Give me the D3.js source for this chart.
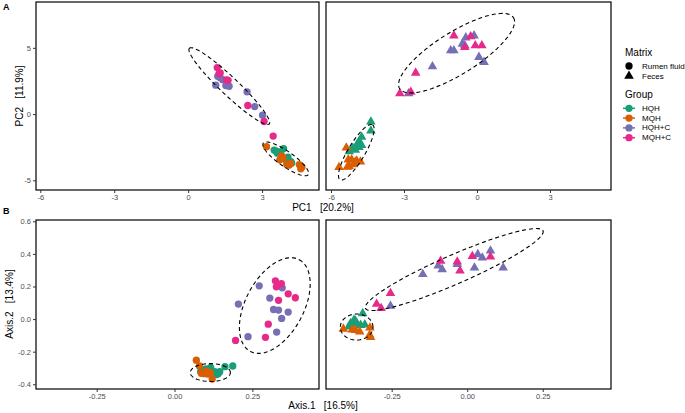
<!DOCTYPE html>
<html><head><meta charset="utf-8">
<script src="https://cdn.jsdelivr.net/npm/d3@7"></script>
<style>body{margin:0;background:#fff}svg{display:block}text{font-family:"Liberation Sans",Arial,sans-serif}</style>
</head><body><svg id="c" width="685" height="413"></svg>
<script>
// ---------- data ----------
const groups = ["HQH","MQH","HQH+C","MQH+C"];
const groupColors = ["#1B9E77","#D95F02","#7570B3","#E7298A"];
const matrices = ["Rumen fluid","Feces"];

// PCA (panel A) – rumen fluid
const pcaRumenHQH  = [[3.49,-2.72],[3.57,-2.8],[3.68,-2.85],[3.87,-2.6],[3.76,-3.0],[3.93,-3.4],[4.17,-3.6],[4.05,-3.25],[3.62,-2.95],[4.2,-3.7]];
const pcaRumenMQH  = [[3.18,-2.46],[3.79,-3.15],[3.72,-3.45],[4.0,-3.8],[4.15,-3.73],[4.51,-3.81],[4.57,-4.13],[3.85,-3.3],[4.62,-4.0],[4.1,-3.85]];
const pcaRumenHQHC = [[1.12,2.18],[1.2,2.85],[1.4,2.6],[1.53,2.15],[1.66,2.1],[2.39,1.68],[2.7,0.57],[3.02,-0.08],[1.3,2.75]];
const pcaRumenMQHC = [[1.18,3.51],[1.25,3.04],[1.3,3.1],[1.56,2.58],[1.62,2.55],[2.42,0.65],[3.08,-0.56],[3.45,-1.66]];
// PCA – feces
const pcaFecesHQH  = [[-4.36,-0.58],[-4.36,-1.26],[-4.74,-1.73],[-4.84,-2.06],[-4.94,-2.31],[-4.74,-2.35],[-5.1,-2.56],[-5.25,-2.82],[-4.85,-2.5],[-5.0,-2.7]];
const pcaFecesMQH  = [[-5.37,-2.54],[-5.67,-4.02],[-5.29,-3.44],[-5.15,-3.44],[-5.25,-3.95],[-5.08,-3.8],[-4.94,-3.53],[-4.79,-3.6],[-5.33,-4.0],[-5.0,-3.6]];
const pcaFecesHQHC = [[-0.12,5.92],[-0.46,5.77],[-0.6,5.3],[-0.5,5.17],[-1.08,4.8],[-0.95,4.8],[-1.83,3.59],[0.08,4.3],[0.29,3.92],[-2.81,1.55]];
const pcaFecesMQHC = [[-0.95,5.92],[-0.26,5.85],[-0.07,5.17],[0.2,5.17],[-0.5,5.05],[-2.52,3.11],[-3.17,1.55],[-2.72,1.66]];

// PCoA (panel B) – rumen fluid
const pcoaRumenHQH  = [[0.084,-0.323],[0.116,-0.297],[0.129,-0.323],[0.145,-0.323],[0.162,-0.292],[0.187,-0.288],[0.14,-0.335],[0.1,-0.305],[0.135,-0.34]];
const pcoaRumenMQH  = [[0.07,-0.252],[0.08,-0.288],[0.086,-0.333],[0.102,-0.319],[0.107,-0.337],[0.121,-0.368],[0.095,-0.335],[0.115,-0.33]];
const pcoaRumenHQHC = [[0.272,0.204],[0.346,0.192],[0.306,0.129],[0.205,0.092],[0.318,0.059],[0.334,0.055],[0.365,0.043],[0.344,0.004],[0.236,-0.108],[0.328,-0.08]];
const pcoaRumenMQHC = [[0.324,0.235],[0.343,0.217],[0.327,0.198],[0.365,0.155],[0.388,0.131],[0.334,0.115],[0.301,-0.031],[0.292,-0.112],[0.196,-0.131]];
// PCoA – feces
const pcoaFecesHQH  = [[-0.346,0.035],[-0.375,-0.006],[-0.386,-0.026],[-0.366,-0.028],[-0.353,-0.037],[-0.339,-0.034],[-0.392,-0.047],[-0.38,-0.03],[-0.37,-0.01]];
const pcoaFecesMQH  = [[-0.41,-0.06],[-0.381,-0.066],[-0.356,-0.077],[-0.322,-0.053],[-0.323,-0.098],[-0.32,-0.112],[-0.37,-0.068]];
const pcoaFecesHQHC = [[0.035,0.397],[0.05,0.376],[0.077,0.419],[0.119,0.315],[0.024,0.315],[-0.096,0.327],[-0.083,0.305],[-0.033,0.336],[-0.147,0.275],[-0.254,0.08]];
const pcoaFecesMQHC = [[0.017,0.386],[-0.088,0.356],[-0.033,0.352],[-0.024,0.296],[0.077,0.382],[-0.254,0.158],[-0.3,0.092],[-0.285,0.066]];

// confidence ellipses: [cx, cy, majorDx, majorDy, minorDx, minorDy] (data units)
const pcaRumenEllipses = [[1.67,2.11,-1.62,2.86,0.25,0.49],[3.96,-3.38,0.913,-1.19,-0.175,-0.463]];
const pcaFecesEllipses = [[-0.84,4.6,2.34,2.68,0.455,-1.35],[-4.96,-2.88,0.668,2.07,0.3,-0.33]];
const pcoaRumenEllipses = [[0.322,0.083,0.0784,0.2816,0.0823,-0.0834],[0.115,-0.328,0.0643,0,0,0.055]];
const pcoaFecesEllipses = [[-0.043,0.304,0.294,0.238,0.0192,-0.0815],[-0.366,-0.049,0.054,0,0,0.08]];

// axis ticks
const pcaXTicks = [-6,-3,0,3];
const pcaYTicks = [-5,0,5];
const pcoaXTicks = [-0.25,0,0.25];
const pcoaYTicks = [-0.4,-0.2,0,0.2,0.4,0.6];

// ---------- drawing ----------
const svg = d3.select("#c");
const tickCol = "#4D4D4D";
const circleSize = 42, triSize = 40;

function panel(cfg){
  const x = d3.scaleLinear().domain(cfg.xd).range([cfg.x0, cfg.x1]);
  const y = d3.scaleLinear().domain(cfg.yd).range([cfg.y1, cfg.y0]);
  const g = svg.append("g");
  g.append("rect").attr("x",cfg.x0).attr("y",cfg.y0).attr("width",cfg.x1-cfg.x0).attr("height",cfg.y1-cfg.y0).attr("fill","#fff");
  const sym = d3.symbol().type(cfg.shape==="tri"?d3.symbolTriangle:d3.symbolCircle).size(cfg.shape==="tri"?triSize:circleSize);
  cfg.series.forEach((pts,i)=>{
    g.selectAll(null).data(pts).enter().append("path")
      .attr("d",sym).attr("transform",d=>`translate(${x(d[0])},${y(d[1])})`)
      .attr("fill",groupColors[i]);
  });
  const line = d3.line();
  cfg.ellipses.forEach(e=>{
    const pts = d3.range(0,361,3).map(a=>{const t=a*Math.PI/180;
      return [x(e[0]+e[2]*Math.cos(t)+e[4]*Math.sin(t)), y(e[1]+e[3]*Math.cos(t)+e[5]*Math.sin(t))];});
    g.append("path").attr("d",line(pts)+"Z").attr("fill","none").attr("stroke","#000")
      .attr("stroke-width",1.1).attr("stroke-dasharray","4,3");
  });
  g.append("rect").attr("x",cfg.x0).attr("y",cfg.y0).attr("width",cfg.x1-cfg.x0).attr("height",cfg.y1-cfg.y0)
    .attr("fill","none").attr("stroke","#000").attr("stroke-width",1.2);
  const ax = g.append("g").attr("transform",`translate(0,${cfg.y1})`)
    .call(d3.axisBottom(x).tickValues(cfg.xt).tickSize(3).tickPadding(2).tickFormat(cfg.xf));
  ax.select(".domain").remove();
  ax.selectAll("line").attr("stroke","#333");
  ax.selectAll("text").attr("fill",tickCol).attr("font-size",7.5).style("font-family","Liberation Sans, Arial, sans-serif");
  if(cfg.yaxis){
    const ay = g.append("g").attr("transform",`translate(${cfg.x0},0)`)
      .call(d3.axisLeft(y).tickValues(cfg.yt).tickSize(3).tickPadding(2).tickFormat(cfg.yf));
    ay.select(".domain").remove();
    ay.selectAll("line").attr("stroke","#333");
    ay.selectAll("text").attr("fill",tickCol).attr("font-size",7.5).style("font-family","Liberation Sans, Arial, sans-serif");
  }
}

const fPca = d => d3.format("d")(d).replace("\u2212","-");
const fPcoa = d => d3.format(".2f")(d).replace("\u2212","-");
const fPcoaY = d => d3.format(".1f")(d).replace("\u2212","-");

panel({x0:36,x1:319,y0:2,y1:190,xd:[-6.175,5.31],yd:[-5.73,8.46],xt:pcaXTicks,yt:pcaYTicks,xf:fPca,yf:fPca,yaxis:true,shape:"circle",
  series:[pcaRumenHQH,pcaRumenMQH,pcaRumenHQHC,pcaRumenMQHC],ellipses:pcaRumenEllipses});
panel({x0:326,x1:611,y0:2,y1:190,xd:[-6.205,5.507],yd:[-5.73,8.46],xt:pcaXTicks,yt:pcaYTicks,xf:fPca,yf:fPca,yaxis:false,shape:"tri",
  series:[pcaFecesHQH,pcaFecesMQH,pcaFecesHQHC,pcaFecesMQHC],ellipses:pcaFecesEllipses});
panel({x0:36,x1:319,y0:220,y1:389,xd:[-0.445,0.464],yd:[-0.429,0.608],xt:pcoaXTicks,yt:pcoaYTicks,xf:fPcoa,yf:fPcoaY,yaxis:true,shape:"circle",
  series:[pcoaRumenHQH,pcoaRumenMQH,pcoaRumenHQHC,pcoaRumenMQHC],ellipses:pcoaRumenEllipses});
panel({x0:326,x1:611,y0:220,y1:389,xd:[-0.4675,0.476],yd:[-0.429,0.608],xt:pcoaXTicks,yt:pcoaYTicks,xf:fPcoa,yf:fPcoaY,yaxis:false,shape:"tri",
  series:[pcoaFecesHQH,pcoaFecesMQH,pcoaFecesHQHC,pcoaFecesMQHC],ellipses:pcoaFecesEllipses});

function txt(x,y,s,opt={}){
  const t = svg.append("text").attr("x",x).attr("y",y).text(s)
    .attr("font-size",opt.size||10).attr("fill",opt.fill||"#000")
    .attr("text-anchor",opt.anchor||"start").attr("dominant-baseline","central")
    .style("white-space","pre");
  if(opt.bold) t.attr("font-weight","bold");
  if(opt.rot) t.attr("transform",`rotate(-90,${x},${y})`);
  return t;
}
txt(323,207,"PC1   [20.2%]",{anchor:"middle"});
txt(19,96,"PC2   [11.9%]",{anchor:"middle",rot:true});
txt(323,405,"Axis.1   [16.5%]",{anchor:"middle"});
txt(9,304,"Axis.2   [13.4%]",{anchor:"middle",rot:true});
txt(3,7,"A",{bold:true,size:9});
txt(3,211,"B",{bold:true,size:9});

// legend
txt(625,52,"Matrix",{size:10});
const lx = 629;
svg.append("path").attr("d",d3.symbol().type(d3.symbolCircle).size(circleSize)()).attr("transform",`translate(${lx},66)`).attr("fill","#000");
svg.append("path").attr("d",d3.symbol().type(d3.symbolTriangle).size(triSize)()).attr("transform",`translate(${lx},76)`).attr("fill","#000");
txt(642,66,matrices[0],{size:8});
txt(642,76,matrices[1],{size:8});
txt(625,94,"Group",{size:10});
groups.forEach((gname,i)=>{
  const yy = 108.3 + i*9.8;
  svg.append("line").attr("x1",lx-6).attr("x2",lx+6).attr("y1",yy).attr("y2",yy).attr("stroke",groupColors[i]).attr("stroke-width",1.5);
  svg.append("path").attr("d",d3.symbol().type(d3.symbolCircle).size(circleSize)()).attr("transform",`translate(${lx},${yy})`).attr("fill",groupColors[i]);
  txt(642,yy,gname,{size:8});
});
</script></body></html>
